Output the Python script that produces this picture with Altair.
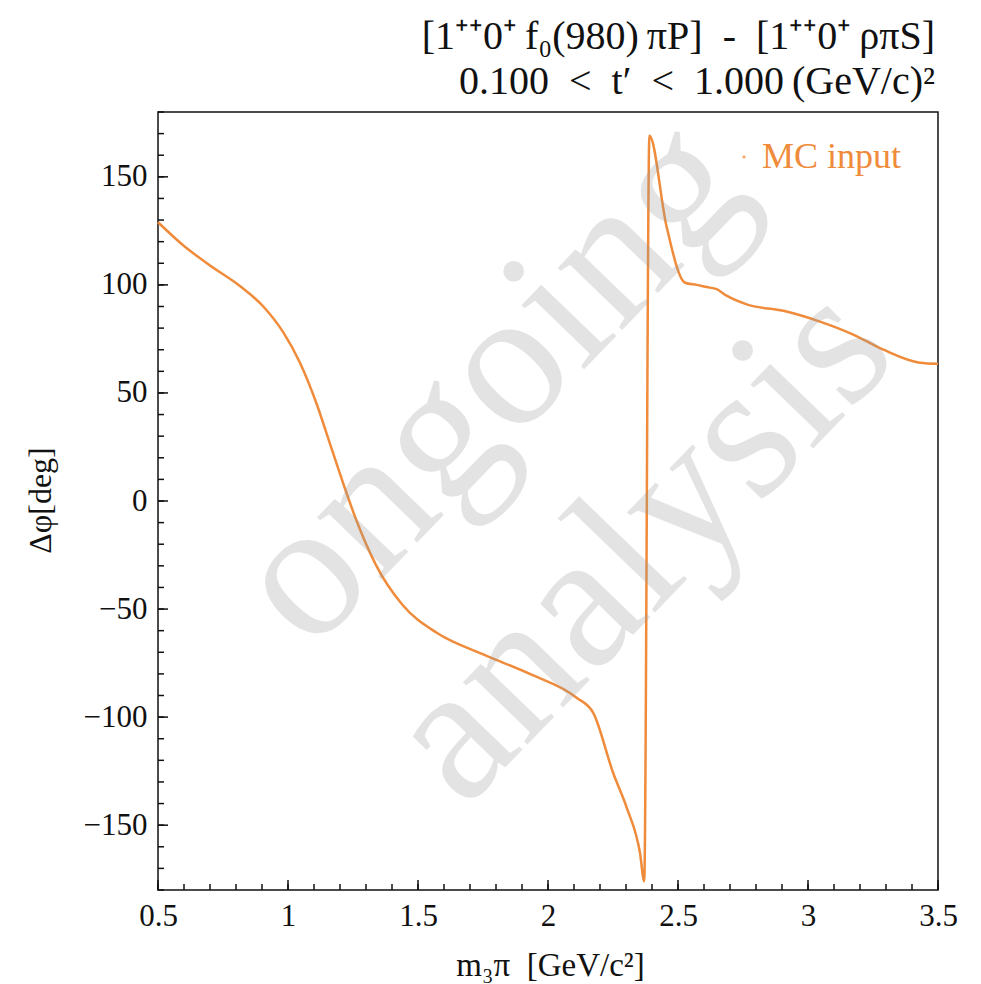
import altair as alt
import pandas as pd

# ---- data ----
mass = [0.50, 0.60, 0.70, 0.815, 0.905, 0.982, 1.046, 1.11, 1.16, 1.21, 1.26,
        1.34, 1.44, 1.572, 1.751, 1.93, 2.11, 2.174, 2.251, 2.303, 2.354, 2.37,
        2.39, 2.456, 2.527, 2.572, 2.61, 2.649, 2.687, 2.764, 2.905, 3.046, 3.174,
        3.29, 3.43, 3.50]
dphi = [129, 118, 109, 99.5, 90, 78, 64, 45, 27, 9, -8,
        -30, -48, -61, -71, -80, -91, -98, -126, -142, -163, -176,
        169, 127, 101, 100, 99, 98, 95, 91, 88, 83, 77,
        70, 64, 63.5]
series_name = "MC input"

x_major = [0.5, 1.0, 1.5, 2.0, 2.5, 3.0, 3.5]
y_major = [-150, -100, -50, 0, 50, 100, 150]
x_minor = [round(0.5 + 0.1 * i, 1) for i in range(31)]
y_minor = list(range(-180, 181, 10))

title_lines = ["[1⁺⁺0⁺\u2009f₀(980)\u2009πP]\u2002-\u2002[1⁺⁺0⁺\u2009ρπS]",
               "0.100\u2002<\u2002t′\u2002<\u20021.000\u2009(GeV/c)²"]
x_title = "m₃π\u2002[GeV/c²]"
y_title = "Δφ[deg]"
watermark = ["ongoing", "analysis"]

# ---- style ----
W, H = 780, 778
ORANGE = "#EF8B3A"
FONT = "Liberation Serif"
INK = "#111111"

curve = pd.DataFrame({"m": mass, "dphi": dphi, "series": [series_name] * len(mass)})

xs = alt.Scale(domain=[0.5, 3.5], nice=False, zero=False)
ys = alt.Scale(domain=[-180, 180], nice=False, zero=False)

line = alt.Chart(curve).mark_line(interpolate="monotone", strokeWidth=2.5).encode(
    x=alt.X("m:Q", scale=xs, axis=alt.Axis(
        title=x_title, values=x_major, format="~g", ticks=False, domain=False, grid=False,
        labelFlush=False, labelOverlap=False,
        labelPadding=11, labelFontSize=31, labelFont=FONT, labelColor=INK,
        titleFont=FONT, titleFontSize=33, titleFontWeight="normal", titleColor=INK,
        titleX=392, titleY=75, titleBaseline="middle", titleAlign="center")),
    y=alt.Y("dphi:Q", scale=ys, axis=alt.Axis(
        title=y_title, values=y_major, ticks=False, domain=False, grid=False,
        labelFlush=False, labelOverlap=False,
        labelPadding=11, labelFontSize=31, labelFont=FONT, labelColor=INK,
        titleFont=FONT, titleFontSize=32, titleFontWeight="normal", titleColor=INK,
        titleX=-118, titleY=388, titleAngle=270, titleBaseline="middle", titleAlign="center")),
    color=alt.Color("series:N", scale=alt.Scale(range=[ORANGE]), legend=alt.Legend(
        title=None, orient="none", legendX=568, legendY=27, symbolType="circle",
        symbolSize=5, symbolStrokeWidth=1, labelFont=FONT, labelFontSize=36,
        labelColor=ORANGE, labelOffset=0, padding=0)),
)

def ticks_x(vals, length):
    return alt.Chart(pd.DataFrame({"m": vals})).mark_rule(color=INK, strokeWidth=1.5).encode(
        x=alt.X("m:Q", scale=xs), y=alt.value(H), y2=alt.value(H - length))

def ticks_y(vals, length):
    return alt.Chart(pd.DataFrame({"dphi": vals})).mark_rule(color=INK, strokeWidth=1.5).encode(
        y=alt.Y("dphi:Q", scale=ys), x=alt.value(0), x2=alt.value(length))

def mark_word(word, cx, cy):
    return alt.Chart(pd.DataFrame({"w": [word]})).mark_text(
        font=FONT, fontSize=195, angle=314, align="center", baseline="middle",
        color="#9a9a9a", opacity=0.27).encode(
        text="w:N", x=alt.value(cx), y=alt.value(cy))

def title_line(txt, cy):
    return alt.Chart(pd.DataFrame({"t": [txt]})).mark_text(
        font=FONT, fontSize=40, align="right", baseline="middle", color=INK).encode(
        text="t:N", x=alt.value(W - 3), y=alt.value(cy))

chart = alt.layer(
    line,
    ticks_x(x_minor, 6), ticks_x(x_major, 10),
    ticks_y(y_minor, 6), ticks_y(y_major, 10),
    mark_word(watermark[0], 490 - 158, 382 - 112),
    mark_word(watermark[1], 640 - 158, 543 - 112),
    title_line(title_lines[0], 37 - 112),
    title_line(title_lines[1], 82 - 112),
).properties(
    width=W, height=H,
    autosize="none",
    background="white",
    padding={"left": 158, "top": 112, "right": 43, "bottom": 94},
).configure_view(stroke=INK, strokeWidth=1.5)

chart.save("out.html", embed_options={"renderer": "svg", "actions": False})
